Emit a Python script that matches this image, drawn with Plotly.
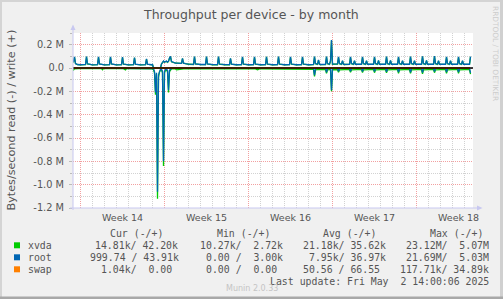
import plotly.graph_objects as go
import pandas as pd

# ---------------- data (k = 1000 bytes/s) ----------------
reg_hours = [1, 11, 13, 15, 19, 21, 23]
days_before = ["2025-03-30", "2025-03-31", "2025-04-01", "2025-04-02",
               "2025-04-03", "2025-04-04", "2025-04-05"]
crash_day = "2025-04-06"
crash_hours = [1, 3, 5, 7, 9, 11, 13, 15, 17, 19, 21, 23,
               25, 27, 29, 31, 33, 35, 37, 39, 41, 43, 45, 47]
days_after = ["2025-04-08", "2025-04-09", "2025-04-10", "2025-04-11", "2025-04-12",
              "2025-04-13", "2025-04-14", "2025-04-15", "2025-04-16", "2025-04-17",
              "2025-04-18", "2025-04-19", "2025-04-20", "2025-04-21", "2025-04-22",
              "2025-04-23", "2025-04-24", "2025-04-25", "2025-04-26", "2025-04-27",
              "2025-04-28", "2025-04-29", "2025-04-30", "2025-05-01", "2025-05-02"]

# root write (+)
root_write_before = [
    [35, 55, 95, 38, 30, 29, 28], [28, 30, 97, 36, 30, 29, 28], [27, 29, 95, 35, 30, 29, 28],
    [27, 29, 95, 35, 30, 29, 28], [27, 29, 93, 34, 29, 29, 28], [27, 29, 90, 33, 29, 29, 28],
    [27, 29, 78, 33, 29, 28, 28]]
root_write_crash = [30, 0, 0, 0, 0, 0, 0, 0, 0, 35, 55, 60,
                    50, 55, 60, 50, 58, 85, 100, 55, 50, 45, 45, 42]
root_write_after = [
    [42, 40, 82, 42, 38, 36, 35], [33, 31, 98, 36, 32, 31, 30], [30, 30, 98, 35, 31, 30, 29],
    [29, 29, 97, 34, 30, 30, 29], [29, 29, 82, 33, 30, 29, 28], [28, 29, 96, 34, 30, 29, 28],
    [28, 29, 96, 34, 30, 29, 28], [28, 29, 96, 34, 30, 29, 28], [28, 29, 97, 34, 30, 29, 28],
    [28, 29, 96, 34, 30, 29, 28], [28, 29, 95, 34, 30, 29, 28], [28, 30, 98, 38, 32, 70, 32],
    [30, 31, 97, 38, 32, 60, 240], [33, 35, 95, 38, 32, 62, 32], [31, 32, 96, 38, 32, 62, 32],
    [31, 32, 96, 38, 32, 63, 32], [31, 32, 96, 38, 32, 65, 32], [31, 32, 97, 38, 32, 65, 32],
    [31, 32, 95, 38, 32, 62, 32], [31, 32, 97, 38, 32, 62, 32], [31, 32, 100, 38, 32, 65, 32],
    [31, 32, 102, 38, 32, 62, 32], [31, 32, 96, 38, 32, 63, 32], [31, 32, 96, 38, 32, 62, 32],
    [31, 32, 98]]

# xvda write (+)
xvda_write_before = [
    [34, 53, 93, 37, 29, 28, 27], [27, 29, 95, 35, 29, 28, 27], [26, 28, 93, 34, 29, 28, 27],
    [26, 28, 94, 34, 29, 28, 27], [26, 28, 91, 33, 28, 28, 27], [26, 28, 88, 32, 28, 28, 27],
    [26, 28, 76, 32, 28, 27, 27]]
xvda_write_crash = [29, 0, 0, 0, 0, 0, 0, 0, 0, 34, 53, 58,
                    49, 53, 58, 49, 56, 83, 97, 53, 49, 44, 44, 41]
xvda_write_after = [
    [41, 39, 80, 41, 37, 35, 34], [32, 30, 96, 35, 31, 30, 29], [29, 29, 96, 34, 30, 29, 28],
    [28, 28, 95, 33, 29, 29, 28], [28, 28, 80, 32, 29, 28, 27], [27, 28, 94, 33, 29, 28, 27],
    [27, 28, 94, 33, 29, 28, 27], [27, 28, 95, 33, 29, 28, 27], [27, 28, 95, 33, 29, 28, 27],
    [27, 28, 94, 33, 29, 28, 27], [27, 28, 93, 33, 29, 28, 27], [27, 29, 96, 37, 31, 68, 31],
    [29, 30, 95, 37, 31, 58, 236], [32, 34, 93, 37, 31, 60, 31], [30, 31, 94, 37, 31, 60, 31],
    [30, 31, 94, 37, 31, 61, 31], [30, 31, 94, 37, 31, 63, 31], [30, 31, 95, 37, 31, 63, 31],
    [30, 31, 93, 37, 31, 60, 31], [30, 31, 95, 37, 31, 60, 31], [30, 31, 98, 37, 31, 63, 31],
    [30, 31, 100, 37, 31, 60, 31], [30, 31, 94, 37, 31, 61, 31], [30, 31, 94, 37, 31, 60, 31],
    [30, 31, 96]]

# root read (-), magnitudes
root_read_before = [
    [1, 1, 3, 1, 1, 1, 1], [1, 1, 3, 1, 1, 1, 1], [1, 1, 3, 1, 1, 1, 1], [1, 1, 3, 1, 1, 1, 1],
    [1, 1, 3, 1, 1, 1, 1], [1, 1, 3, 1, 1, 1, 1], [1, 1, 3, 1, 1, 1, 1]]
root_read_crash = [2, 5, 30, 210, 40, 1060, 60, 20, 10, 10, 30, 800,
                   30, 10, 10, 20, 190, 20, 5, 2, 2, 2, 2, 2]
root_read_after = [
    [2, 1, 4, 2, 1, 1, 1], [1, 1, 4, 2, 1, 1, 1], [1, 1, 4, 2, 1, 1, 1], [1, 1, 4, 2, 1, 1, 1],
    [1, 1, 4, 2, 1, 1, 1], [1, 1, 4, 2, 1, 1, 1], [1, 1, 4, 2, 1, 1, 1], [1, 1, 4, 2, 1, 1, 1],
    [1, 1, 4, 2, 1, 1, 1], [1, 1, 4, 2, 1, 1, 1], [1, 1, 6, 2, 1, 1, 1], [2, 2, 62, 5, 2, 3, 2],
    [2, 2, 38, 4, 2, 3, 190], [3, 3, 28, 4, 2, 3, 2], [2, 2, 28, 4, 2, 3, 2], [2, 2, 30, 4, 2, 3, 2],
    [2, 2, 30, 4, 2, 3, 2], [2, 2, 32, 4, 2, 3, 2], [2, 2, 36, 4, 2, 3, 2], [2, 2, 38, 4, 2, 3, 2],
    [2, 2, 40, 4, 2, 3, 2], [2, 2, 30, 4, 2, 3, 2], [2, 2, 36, 4, 2, 3, 2], [2, 2, 36, 4, 2, 3, 2],
    [2, 2, 42]]

# xvda read (-), magnitudes
xvda_read_before = [
    [6, 18, 8, 6, 6, 6, 6], [6, 6, 8, 6, 6, 6, 6], [6, 6, 8, 6, 6, 16, 6], [6, 6, 8, 6, 6, 6, 6],
    [6, 6, 8, 6, 17, 6, 6], [6, 6, 8, 6, 6, 6, 6], [6, 6, 8, 6, 6, 6, 6]]
xvda_read_crash = [8, 15, 40, 230, 50, 1120, 80, 30, 20, 20, 40, 840,
                   40, 20, 20, 30, 210, 30, 15, 8, 8, 8, 8, 8]
xvda_read_after = [
    [16, 7, 9, 7, 7, 7, 7], [7, 7, 9, 7, 7, 7, 7], [7, 7, 9, 7, 7, 7, 7], [7, 7, 9, 7, 7, 7, 7],
    [7, 7, 9, 7, 7, 7, 7], [7, 7, 9, 7, 7, 7, 7], [7, 7, 9, 7, 16, 7, 7], [7, 7, 9, 7, 7, 7, 7],
    [7, 7, 9, 7, 7, 7, 7], [7, 7, 9, 7, 7, 7, 7], [7, 7, 12, 7, 7, 7, 7], [10, 12, 72, 16, 14, 14, 14],
    [14, 14, 46, 16, 14, 14, 200], [15, 15, 36, 16, 14, 14, 14], [14, 14, 36, 16, 14, 14, 14],
    [14, 14, 38, 16, 14, 14, 14], [14, 14, 40, 16, 14, 14, 14], [14, 14, 42, 16, 14, 14, 14],
    [14, 14, 45, 16, 14, 14, 14], [14, 14, 46, 16, 14, 14, 14], [14, 14, 50, 16, 14, 14, 14],
    [14, 14, 40, 16, 14, 14, 14], [14, 14, 46, 16, 14, 14, 14], [14, 14, 46, 16, 14, 14, 14],
    [14, 14, 52]]

# swap (tiny, hidden under the zero rule), one value per day
swap_days = days_before + ["2025-04-06", "2025-04-07"] + days_after
swap_read = [0.05, 0.04, 0.06, 0.05, 0.05, 0.04, 0.05, 1.2, 0.3, 0.05, 0.04, 0.05,
             0.05, 0.04, 0.05, 0.05, 0.04, 0.05, 0.05, 0.04, 0.05, 0.06, 0.05, 0.04, 0.05,
             0.05, 0.04, 0.05, 0.05, 0.04, 0.05, 0.05, 0.04, 0.05]
swap_write = [0.07, 0.06, 0.07, 0.06, 0.07, 0.06, 0.07, 0.4, 0.2, 0.07, 0.06, 0.07,
              0.07, 0.06, 0.07, 0.07, 0.06, 0.07, 0.07, 0.06, 0.07, 0.06, 0.07, 0.06, 0.07,
              0.07, 0.06, 0.07, 0.07, 0.06, 0.07, 0.07, 0.06, 0.07]

y_tick_vals = [-1.2e6, -1.0e6, -0.8e6, -0.6e6, -0.4e6, -0.2e6, 0.0, 0.2e6]
y_tick_text = ["-1.2 M", "-1.0 M", "-0.8 M", "-0.6 M", "-0.4 M", "-0.2 M", "0.0", "0.2 M"]
week_starts = ["2025-03-31", "2025-04-07", "2025-04-14", "2025-04-21", "2025-04-28"]
week_label_pos = ["2025-04-03 13:00", "2025-04-10 13:00", "2025-04-17 13:00",
                  "2025-04-24 13:00", "2025-05-01 13:00"]
week_labels = ["Week 14", "Week 15", "Week 16", "Week 17", "Week 18"]

legend_names = ["xvda", "root", "swap"]
legend_colors = ["#00CC00", "#0066B3", "#FF8000"]
col_headers = ["Cur (-/+)", "Min (-/+)", "Avg (-/+)", "Max (-/+)"]
cur_vals = ["14.81k/ 42.20k", "999.74 / 43.91k", "1.04k/  0.00 "]
min_vals = ["10.27k/  2.72k", "0.00 /  3.00k", "0.00 /  0.00 "]
avg_vals = ["21.18k/ 35.62k", "7.95k/ 36.97k", "50.56 / 66.55 "]
max_vals = ["23.12M/  5.07M", "21.69M/  5.03M", "117.71k/ 34.89k"]
last_update = "Last update: Fri May  2 14:00:06 2025"


# ---------------- build series ----------------
def series(before, crash, after, sign):
    xs, ys = [], []
    for d, row in zip(days_before, before):
        for h, v in zip(reg_hours, row):
            xs.append(pd.Timestamp(d) + pd.Timedelta(hours=h))
            ys.append(sign * v * 1000)
    for h, v in zip(crash_hours, crash):
        xs.append(pd.Timestamp(crash_day) + pd.Timedelta(hours=h))
        ys.append(sign * v * 1000)
    for d, row in zip(days_after, after):
        for h, v in zip(reg_hours, row):
            xs.append(pd.Timestamp(d) + pd.Timedelta(hours=h))
            ys.append(sign * v * 1000)
    return xs, ys


fig = go.Figure()
LW = 1.3
for name, color, rd, wr in [
    ("xvda", "#00CC00", (xvda_read_before, xvda_read_crash, xvda_read_after),
     (xvda_write_before, xvda_write_crash, xvda_write_after)),
    ("root", "#0066B3", (root_read_before, root_read_crash, root_read_after),
     (root_write_before, root_write_crash, root_write_after)),
]:
    x, y = series(*rd, -1)
    fig.add_trace(go.Scatter(x=x, y=y, mode="lines", line=dict(color=color, width=LW),
                             showlegend=False, hoverinfo="skip"))
    x, y = series(*wr, 1)
    fig.add_trace(go.Scatter(x=x, y=y, mode="lines", line=dict(color=color, width=LW),
                             showlegend=False, hoverinfo="skip"))

sx = [pd.Timestamp(d) + pd.Timedelta(hours=12) for d in swap_days]
fig.add_trace(go.Scatter(x=sx, y=[-v * 1000 for v in swap_read], mode="lines",
                         line=dict(color="#FF8000", width=LW), showlegend=False, hoverinfo="skip"))
fig.add_trace(go.Scatter(x=sx, y=[v * 1000 for v in swap_write], mode="lines",
                         line=dict(color="#FF8000", width=LW), showlegend=False, hoverinfo="skip"))

# ---------------- layout ----------------
L, R, T, B = 73, 473, 33, 208
W, H = 503, 299


def PX(x):
    return (x - L) / (R - L)


def PY(y):
    return (B - y) / (B - T)


PINK = "#F2A0A0"
GRAY = "#D2D2D2"
AXC = "#C8C8F0"
TXT = "#555555"
MONO = "DejaVu Sans Mono"
SANS = "DejaVu Sans"

fig.update_layout(
    width=W, height=H, autosize=False,
    margin=dict(l=L, r=W - R, t=T, b=H - B, pad=0),
    paper_bgcolor="#F0F0F0", plot_bgcolor="#FFFFFF",
    showlegend=False,
    xaxis=dict(type="date", range=["2025-03-30 10:00", "2025-05-02 18:00"],
               tickmode="array", tickvals=week_starts, showticklabels=False,
               ticks="", showgrid=True, gridcolor=PINK, griddash="1px,1px", gridwidth=1,
               zeroline=False, showline=False,
               minor=dict(tickmode="linear", tick0="2025-03-30", dtick=86400000,
                          showgrid=True, gridcolor=GRAY, griddash="1px,1px", ticks="")),
    yaxis=dict(range=[-1.2e6, 0.3e6], tickmode="array", tickvals=y_tick_vals,
               ticktext=y_tick_text, ticks="outside", ticklen=3, tickcolor="#BBBBBB",
               ticklabelstandoff=3,
               tickfont=dict(family=SANS, size=9.8, color=TXT),
               showgrid=True, gridcolor=PINK, griddash="1px,1px", gridwidth=1,
               zeroline=False, showline=False,
               minor=dict(tickmode="linear", tick0=0, dtick=1e5, showgrid=True,
                          gridcolor=GRAY, griddash="1px,1px", ticks="outside",
                          ticklen=2, tickcolor="#BBBBBB")),
)

shapes = []
# zero rule
shapes.append(dict(type="line", xref="paper", yref="y", x0=0, x1=1, y0=0, y1=0,
                   line=dict(color="#000000", width=1.6), layer="above"))
# axes with arrows
shapes.append(dict(type="line", xref="paper", yref="paper", x0=PX(73), x1=PX(73),
                   y0=PY(210), y1=PY(28), line=dict(color=AXC, width=1)))
shapes.append(dict(type="line", xref="paper", yref="paper", x0=PX(70), x1=PX(478),
                   y0=PY(208), y1=PY(208), line=dict(color=AXC, width=1)))
shapes.append(dict(type="path", xref="paper", yref="paper",
                   path=f"M {PX(70.5)} {PY(30)} L {PX(73)} {PY(24.5)} L {PX(75.5)} {PY(30)} Z",
                   fillcolor=AXC, line=dict(width=0)))
shapes.append(dict(type="path", xref="paper", yref="paper",
                   path=f"M {PX(477)} {PY(205.5)} L {PX(482.5)} {PY(208)} L {PX(477)} {PY(210.5)} Z",
                   fillcolor=AXC, line=dict(width=0)))
# image frame
shapes.append(dict(type="rect", xref="paper", yref="paper", x0=PX(0), x1=PX(2),
                   y0=PY(299), y1=PY(0), fillcolor="#D4D4D4", line=dict(width=0)))
shapes.append(dict(type="rect", xref="paper", yref="paper", x0=PX(0), x1=PX(503),
                   y0=PY(2), y1=PY(0), fillcolor="#D4D4D4", line=dict(width=0)))
shapes.append(dict(type="rect", xref="paper", yref="paper", x0=PX(500), x1=PX(503),
                   y0=PY(299), y1=PY(0), fillcolor="#D0D0D0", line=dict(width=0)))
shapes.append(dict(type="rect", xref="paper", yref="paper", x0=PX(0), x1=PX(503),
                   y0=PY(299), y1=PY(296.5), fillcolor="#A8A8A8", line=dict(width=0)))
# legend squares
for i, c in enumerate(legend_colors):
    yc = 245.3 + 12 * i
    shapes.append(dict(type="rect", xref="paper", yref="paper", x0=PX(14), x1=PX(20),
                       y0=PY(yc + 3), y1=PY(yc - 3), fillcolor=c, line=dict(width=0)))
fig.update_layout(shapes=shapes)

ann = []


def txt(x, y, s, size, color=TXT, anchor="left", family=SANS, angle=0, xref="paper"):
    ann.append(dict(x=x if xref != "paper" else PX(x), y=PY(y), xref=xref, yref="paper",
                    text=s.replace(" ", "\u00a0"), showarrow=False, xanchor=anchor,
                    yanchor="middle", borderpad=0, textangle=angle,
                    font=dict(family=family, size=size, color=color)))


txt(251, 14, "Throughput per device - by month", 12.5, anchor="center")
txt(10.5, 120, "Bytes/second read (-) / write (+)", 11.2, anchor="center", angle=-90)
txt(495.5, 53.5, "RRDTOOL / TOBI OETIKER", 7.4, color="#CCCCCC", anchor="center", angle=90)
for pos, lab in zip(week_label_pos, week_labels):
    txt(pos, 217, lab, 9.5, anchor="center", xref="x")

FS = 9.85
CW = 0.6021 * FS
header_ends = [162.3, 269.3, 375.0, 482.3]
col_ends = [177.5, 281.8, 385.0, 488.3]
for h, e in zip(col_headers, header_ends):
    txt(e - len(h) * CW, 233.3, h, FS, family=MONO)
for i, name in enumerate(legend_names):
    yc = 245.3 + 12 * i
    txt(26.7, yc, name, FS, family=MONO)
    for vals, e in zip([cur_vals, min_vals, avg_vals, max_vals], col_ends):
        s = vals[i]
        txt(e - len(s) * CW, yc, s, FS, family=MONO)
txt(488.3 - len(last_update) * CW, 281.7, last_update, FS, family=MONO)
txt(252, 288.7, "Munin 2.0.33", 8, color="#C4C4C4", anchor="center")

fig.update_layout(annotations=ann)
fig.write_html("out.html")
